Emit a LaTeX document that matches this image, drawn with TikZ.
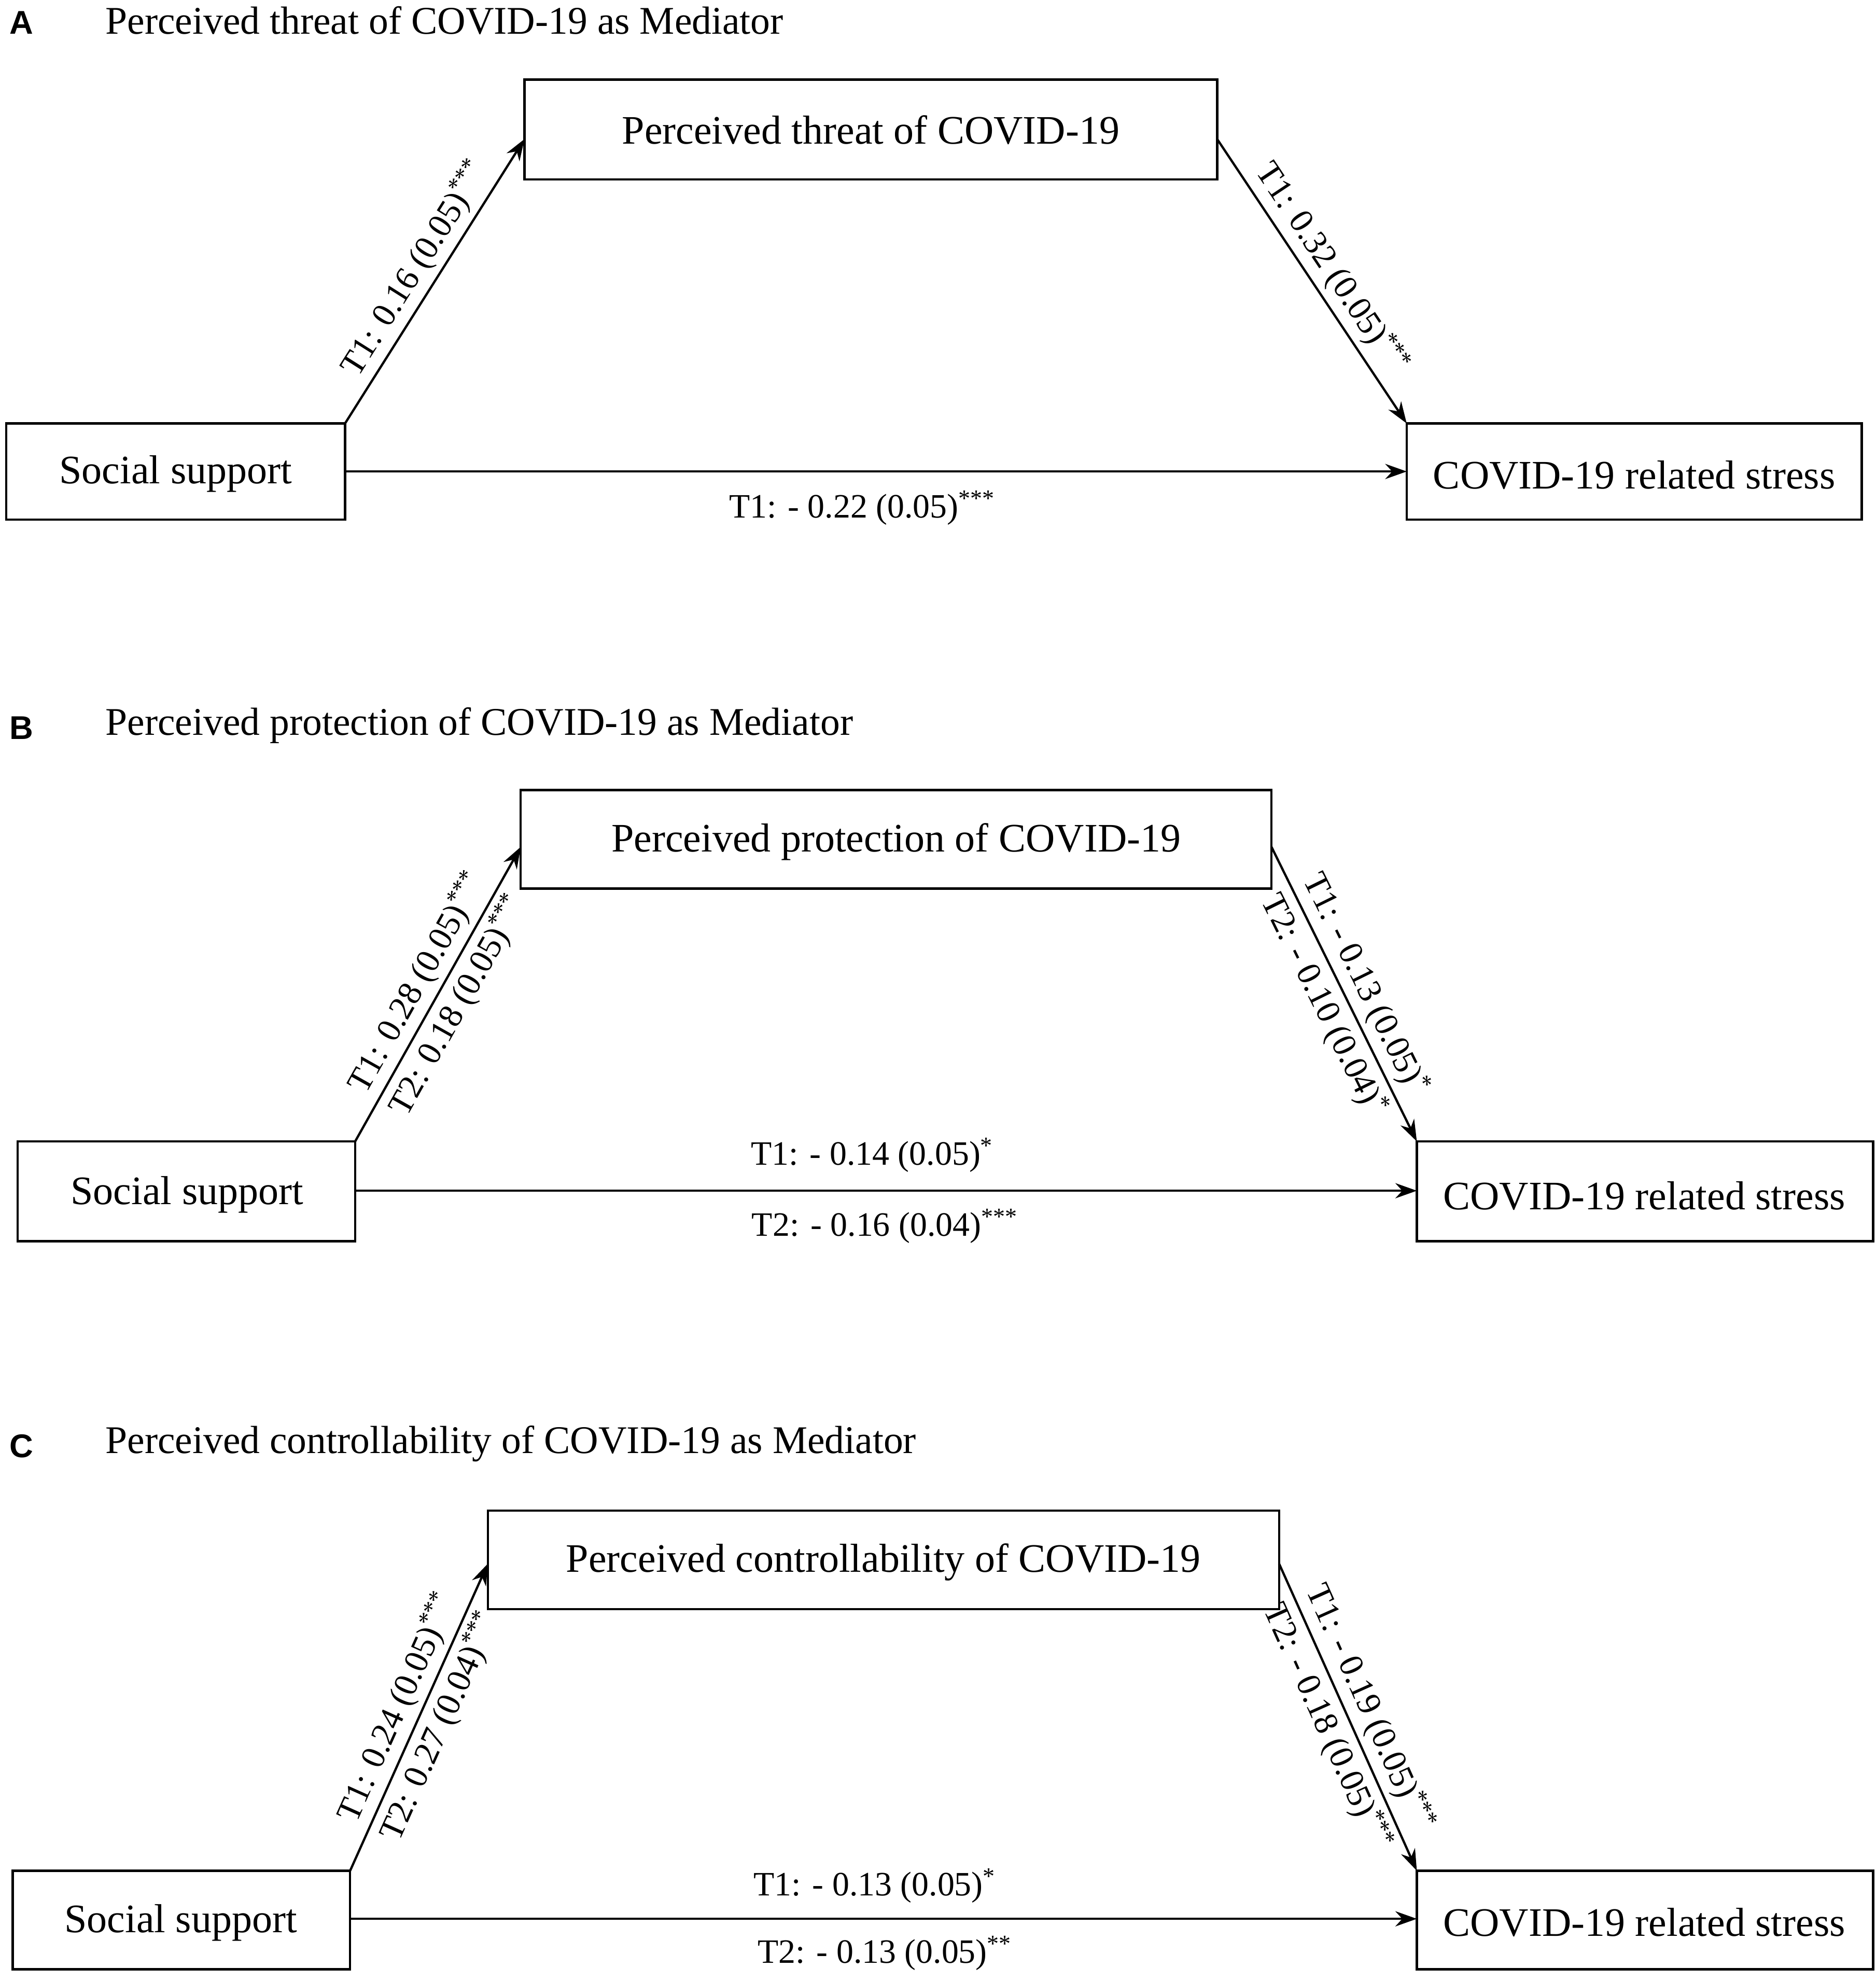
\documentclass[tikz,border=0pt]{standalone}
\usepackage{fontspec}
\setmainfont{Liberation Serif}
\newfontfamily\lblfont{Liberation Sans}
\usetikzlibrary{arrows.meta}
\begin{document}
\begin{tikzpicture}[x=1pt,y=-1pt,
  box/.style={draw,line width=1.8pt,inner sep=0pt},
  arr/.style={line width=1.8pt,-{Stealth[length=17pt,width=12pt]}},
  txt/.style={font=\fontsize{32}{36}\selectfont},
  lbl/.style={font=\fontsize{27}{31}\selectfont,sloped,inner sep=4pt},
  hl/.style={font=\fontsize{27}{31}\selectfont},
  ttl/.style={font=\fontsize{31}{35}\selectfont,anchor=west},
  pl/.style={font=\lblfont\bfseries\fontsize{26}{30}\selectfont,anchor=west}]
\useasboundingbox (0,0) rectangle (1484,1568);
% Panel A
\node[pl] (pA) at (4,18) {A};
\node[ttl] (tA) at (80,16) {Perceived threat of COVID-19 as Mediator};
\draw[box] (415,63) rectangle (963,142);
\node[txt] (mA) at (689,103) {Perceived threat of COVID-19};
\draw[box] (5,335) rectangle (273,411);
\node[txt] (sA) at (139,375) {Social support};
\draw[box] (1113,335) rectangle (1473,411);
\node[txt] (cA) at (1293,376) {COVID-19 related stress};
\coordinate (a1) at (273,335); \coordinate (a2) at (415,110);
\coordinate (a3) at (963,110); \coordinate (a4) at (1113,335);
\draw[arr] (a1) -- node[lbl,above]{T1: 0.16 (0.05)\textsuperscript{***}} (a2);
\draw[arr] (a3) -- node[lbl,above]{T1: 0.32 (0.05)\textsuperscript{***}} (a4);
\draw[arr] (273,373) -- (1113,373);
\node[hl] (hA) at (682,402) {T1: - 0.22 (0.05)\textsuperscript{***}};
% Panel B
\node[pl] (pB) at (4,576) {B};
\node[ttl] (tB) at (80,574) {Perceived protection of COVID-19 as Mediator};
\draw[box] (412,625) rectangle (1006,703);
\node[txt] (mB) at (709,666) {Perceived protection of COVID-19};
\draw[box] (14,903) rectangle (281,982);
\node[txt] (sB) at (148,945) {Social support};
\draw[box] (1121,903) rectangle (1482,982);
\node[txt] (cB) at (1301,946) {COVID-19 related stress};
\coordinate (b1) at (281,903); \coordinate (b2) at (412,670);
\coordinate (b3) at (1006,670); \coordinate (b4) at (1121,903);
\draw[arr] (b1) -- node[lbl,above]{T1: 0.28 (0.05)\textsuperscript{***}} node[lbl,below]{T2: 0.18 (0.05)\textsuperscript{***}} (b2);
\draw[arr] (b3) -- node[lbl,above]{T1: - 0.13 (0.05)\textsuperscript{*}} node[lbl,below]{T2: - 0.10 (0.04)\textsuperscript{*}} (b4);
\draw[arr] (281,942) -- (1121,942);
\node[hl] (hB1) at (690,914) {T1: - 0.14 (0.05)\textsuperscript{*}};
\node[hl] (hB2) at (700,970) {T2: - 0.16 (0.04)\textsuperscript{***}};
% Panel C
\node[pl] (pC) at (4,1144) {C};
\node[ttl] (tC) at (80,1142) {Perceived controllability of COVID-19 as Mediator};
\draw[box] (386,1195) rectangle (1012,1273);
\node[txt] (mC) at (699,1236) {Perceived controllability of COVID-19};
\draw[box] (10,1480) rectangle (277,1558);
\node[txt] (sC) at (143,1521) {Social support};
\draw[box] (1121,1480) rectangle (1482,1558);
\node[txt] (cC) at (1301,1521) {COVID-19 related stress};
\coordinate (c1) at (277,1480); \coordinate (c2) at (386,1237);
\coordinate (c3) at (1012,1237); \coordinate (c4) at (1121,1480);
\draw[arr] (c1) -- node[lbl,above]{T1: 0.24 (0.05)\textsuperscript{***}} node[lbl,below]{T2: 0.27 (0.04)\textsuperscript{***}} (c2);
\draw[arr] (c3) -- node[lbl,above]{T1: - 0.19 (0.05)\textsuperscript{***}} node[lbl,below]{T2: - 0.18 (0.05)\textsuperscript{***}} (c4);
\draw[arr] (277,1518) -- (1121,1518);
\node[hl] (hC1) at (692,1492) {T1: - 0.13 (0.05)\textsuperscript{*}};
\node[hl] (hC2) at (700,1545) {T2: - 0.13 (0.05)\textsuperscript{**}};
\end{tikzpicture}
\end{document}
